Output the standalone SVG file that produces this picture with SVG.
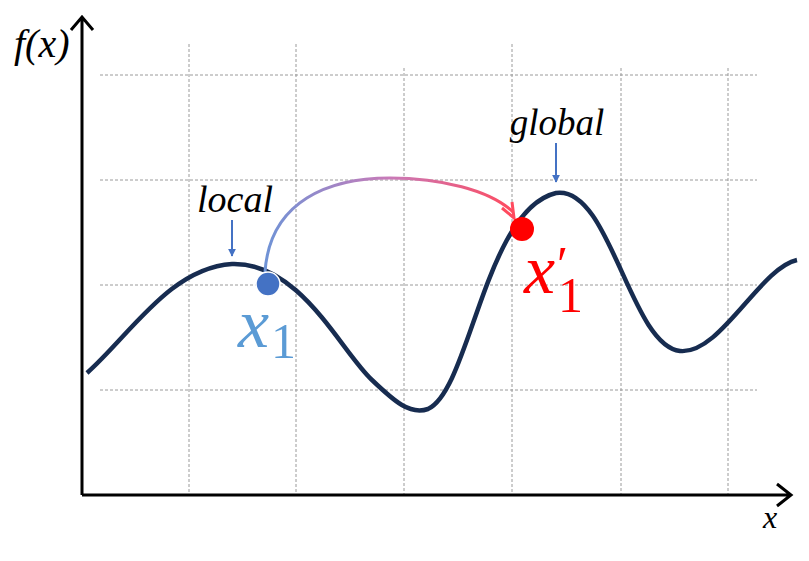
<svg xmlns="http://www.w3.org/2000/svg" width="809" height="561" viewBox="0 0 809 561">
<style>
.grid{stroke:#9a9a9a;stroke-width:1;stroke-dasharray:3,2;fill:none}
.axis{stroke:#000;stroke-width:3;fill:none}
.lbl{font-family:'Liberation Serif','Times New Roman','DejaVu Serif',serif;font-style:italic;fill:#000}
.m{font-family:'Liberation Serif','Times New Roman','DejaVu Serif',serif}
.ptr{stroke:#4472c4;stroke-width:2;fill:none}
</style>
<defs>
<linearGradient id="g" x1="265" y1="0" x2="515" y2="0" gradientUnits="userSpaceOnUse">
<stop offset="0" stop-color="#6f93d6"/>
<stop offset="0.5" stop-color="#c97ab8"/>
<stop offset="1" stop-color="#ff4a5e"/>
</linearGradient>
<marker id="ab" viewBox="0 0 10 10" refX="9" refY="5" markerWidth="4" markerHeight="4" orient="auto" markerUnits="strokeWidth"><path d="M0,0 L10,5 L0,10 z" fill="#4472c4"/></marker>
</defs>
<g id="grid">
<path class="grid" d="M100,75H757M100,180H757M100,285H757M100,390H757"/>
<path class="grid" d="M189,44V495M296,44V495M404,68V495M512,44V495M621,68V495M728,68V495"/>
</g>
<g id="axes">
<path class="axis" d="M82,495V18M71,30L82,17L93,30"/>
<path class="axis" d="M82,495H790M777,484L791,495L777,506"/>
<text class="lbl" x="14" y="57" font-size="40">f(x)</text>
<text class="lbl" x="763" y="528" font-size="32">x</text>
</g>
<g id="curve">
<path d="M87,373 C130,335 170,268 232,264 C300,262 340,350 372,380 C395,402 410,415 428,409 C470,390 485,210 556,193 C610,185 630,345 680,351 C720,355 760,268 797,260" fill="none" stroke="#172c50" stroke-width="4.5"/>
</g>
<g id="connectors">
<path d="M265,272 C270,200 330,178 390,178 C440,178 490,190 513,212" fill="none" stroke="url(#g)" stroke-width="3"/>
<path d="M502,208 L514,218 L512,202" fill="none" stroke="#ff4a5e" stroke-width="3"/>
<line class="ptr" x1="232" y1="220" x2="232" y2="256" marker-end="url(#ab)"/>
<line class="ptr" x1="556" y1="143" x2="556" y2="182" marker-end="url(#ab)"/>
</g>
<g id="local">
<text class="lbl" x="235" y="212" font-size="38" text-anchor="middle">local</text>
</g>
<g id="global">
<text class="lbl" x="557" y="135" font-size="37" text-anchor="middle">global</text>
</g>
<g id="x1">
<circle cx="268" cy="284" r="12" fill="#4472c4" stroke="#fff" stroke-width="1.5"/>
<text class="m" x="238" y="347" font-style="italic" font-size="70" fill="#5b9bd5">x<tspan font-style="normal" font-size="50" dy="11" dx="2">1</tspan></text>
</g>
<g id="x1p">
<circle cx="522" cy="229" r="12" fill="#ff0000"/>
<text class="m" x="524" y="293" font-style="italic" font-size="70" fill="#ff0000">x<tspan font-style="normal" font-size="50" dy="-12" dx="2">′</tspan><tspan font-style="normal" font-size="50" dy="31" dx="-10">1</tspan></text>
</g>
</svg>
